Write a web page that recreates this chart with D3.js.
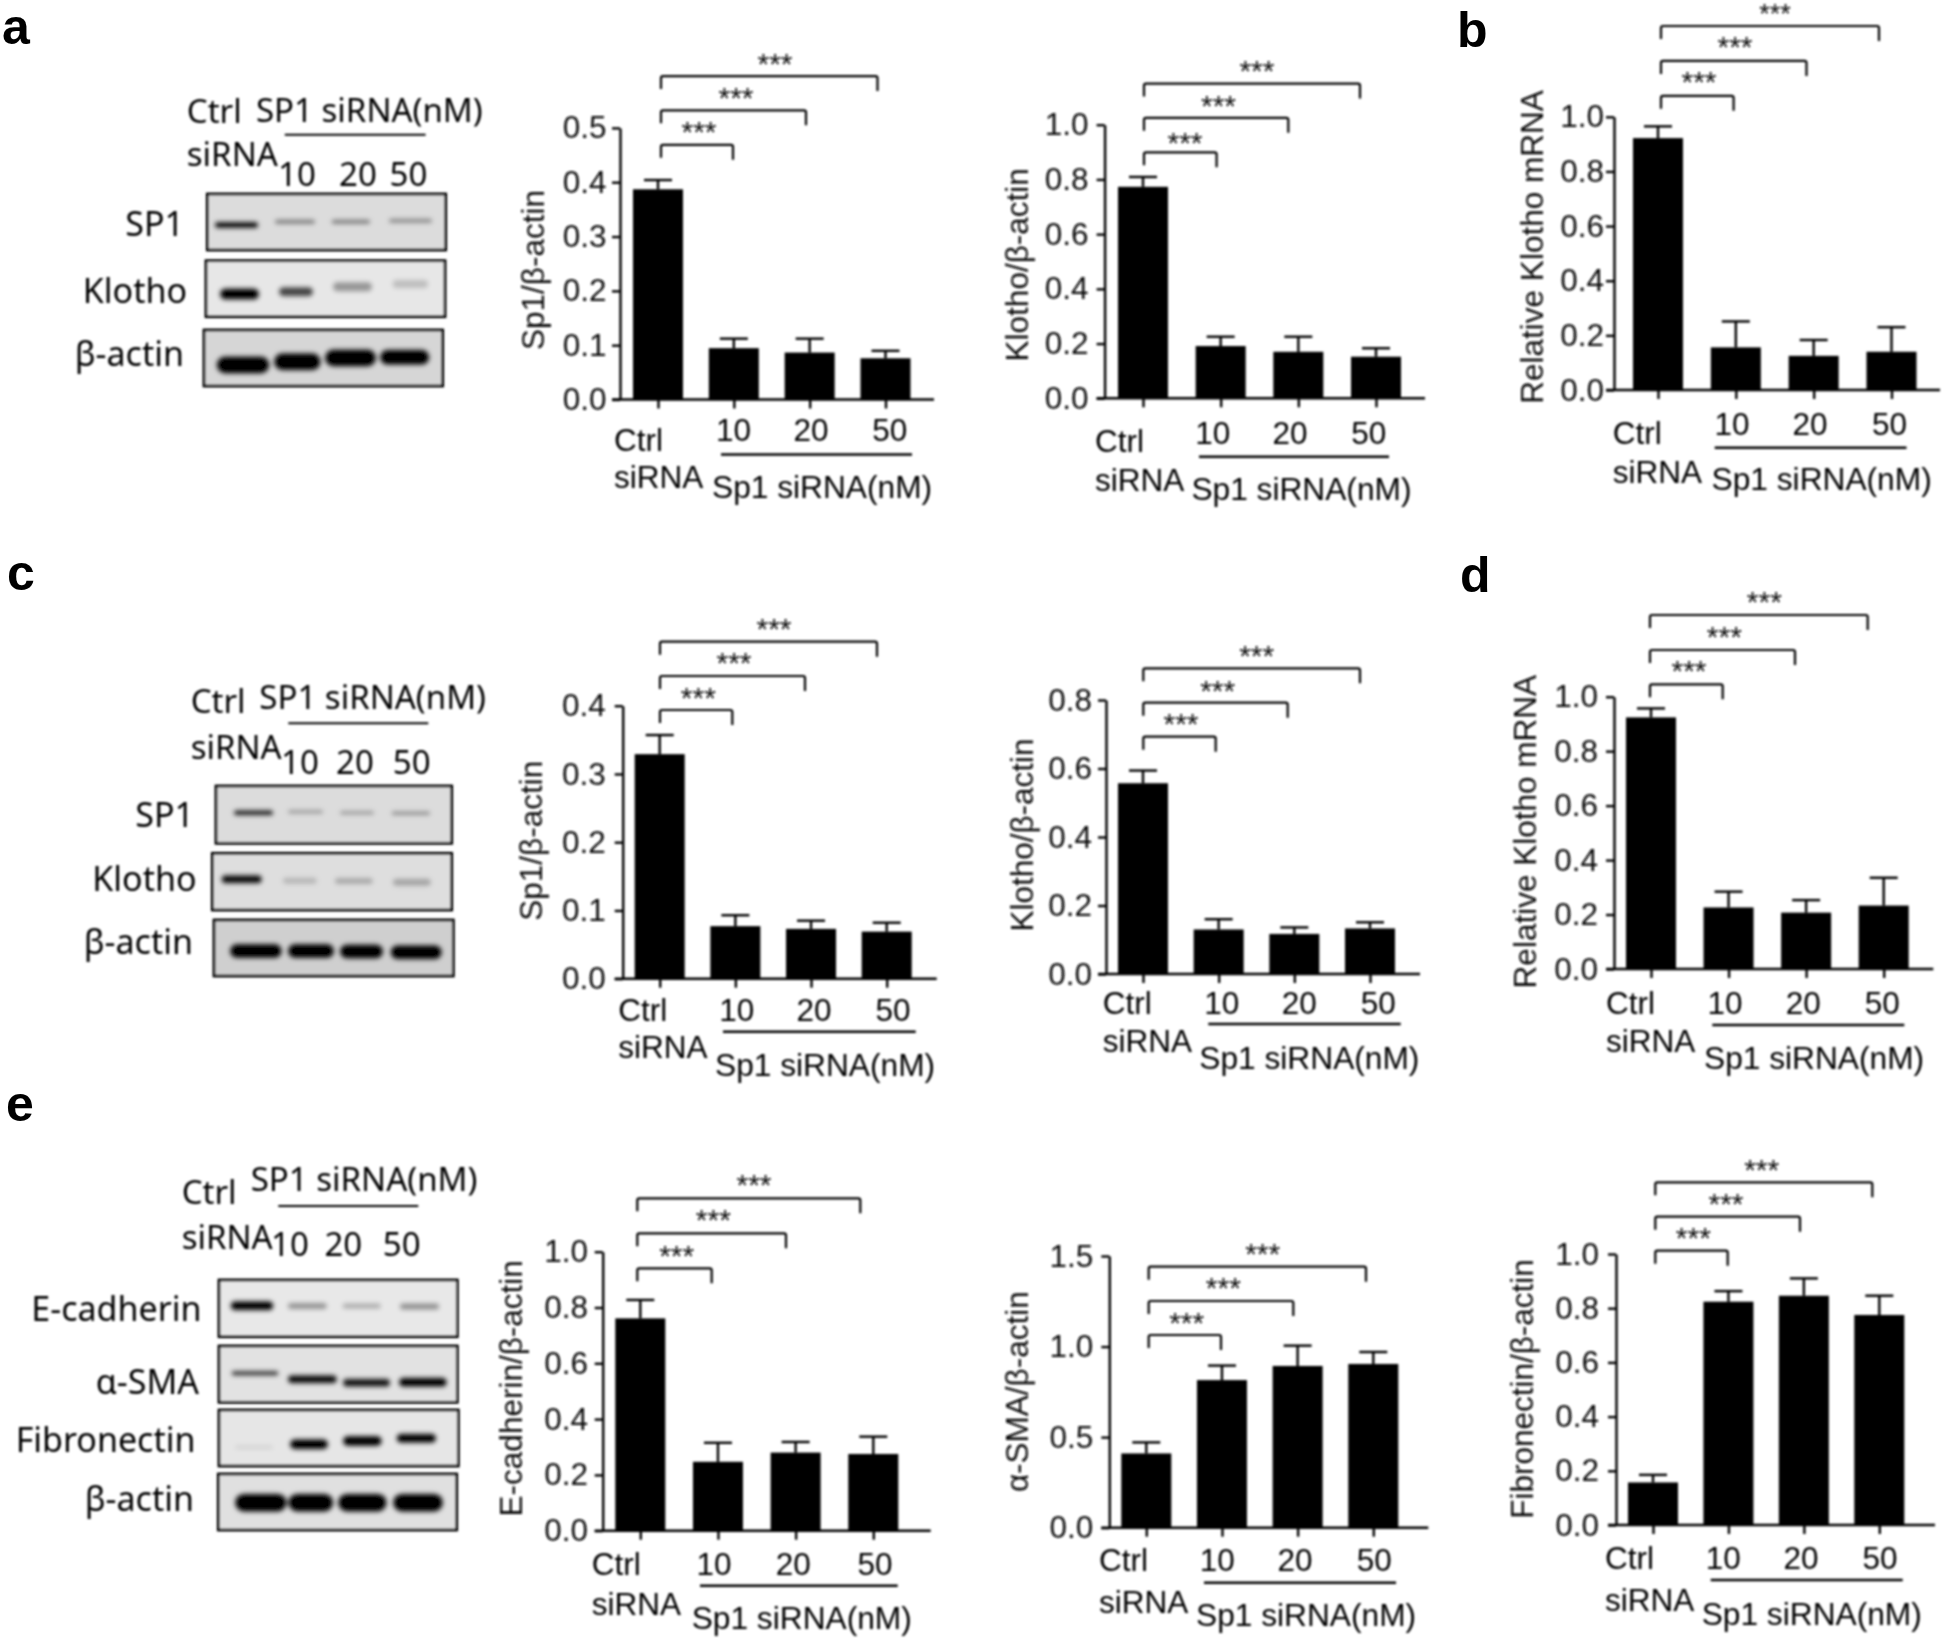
<!DOCTYPE html>
<html><head><meta charset="utf-8">
<script src="https://cdn.jsdelivr.net/npm/d3@7/dist/d3.min.js"></script>
<style>html,body{margin:0;padding:0;background:#fff}svg{display:block}</style>
</head><body>
<svg id="fig" width="1946" height="1640"></svg>
<script>
const categories = ["Ctrl siRNA", "10", "20", "50"];
const a1Values = [0.387, 0.0945, 0.0864, 0.0759], a1Tops = [0.404, 0.112, 0.112, 0.0896];
const a2Values = [0.773, 0.191, 0.170, 0.152],   a2Tops = [0.809, 0.225, 0.225, 0.183];
const bValues  = [0.922, 0.156, 0.125, 0.140],   bTops  = [0.965, 0.251, 0.183, 0.230];
const c1Values = [0.329, 0.077, 0.073, 0.069],   c1Tops = [0.357, 0.093, 0.085, 0.082];
const c2Values = [0.557, 0.130, 0.117, 0.133],   c2Tops = [0.594, 0.160, 0.136, 0.151];
const dValues  = [0.924, 0.226, 0.207, 0.233],   dTops  = [0.957, 0.284, 0.253, 0.335];
const e1Values = [0.761, 0.247, 0.280, 0.275],   e1Tops = [0.827, 0.315, 0.318, 0.337];
const e2Values = [0.410, 0.815, 0.893, 0.904],   e2Tops = [0.471, 0.895, 1.005, 0.970];
const e3Values = [0.157, 0.824, 0.846, 0.775],   e3Tops = [0.185, 0.863, 0.910, 0.846];
const ticks05 = [0, 0.1, 0.2, 0.3, 0.4, 0.5], ticks04 = [0, 0.1, 0.2, 0.3, 0.4];
const ticks10 = [0, 0.2, 0.4, 0.6, 0.8, 1.0], ticks08 = [0, 0.2, 0.4, 0.6, 0.8];
const ticks15 = [0, 0.5, 1.0, 1.5];
const stars = "***", groupLabel = "Sp1 siRNA(nM)", blotGroupLabel = "SP1 siRNA(nM)";

const sp1A=[.95,.45,.45,.38], klothoA=[1,.7,.35,.18], actinA=[1,1,1,1];
const sp1C=[.85,.3,.3,.36], klothoC=[.95,.18,.24,.26], actinC=[1,1,1,1];
const ecadE=[1,.36,.26,.38], smaE=[.75,.95,.9,1], fibE=[.08,1,1,1], actinE=[1,1,1,1];

// ---- layout (pixels), separate from the values ----
const panels = [
 {v:a1Values,t:a1Tops,yt:ticks05,max:.5,ax:620,y0:399.5,yTop:127.9,c0:658,c3:885.5,xEnd:934,pad:5.5,title:"Sp1/β-actin",tx:533,ty:270,
  bl:661,br:[733,806,877.5],by:[144.8,110.3,76.1],sx:[699,736,775],sy:[127,93,59.2],
  n:[733.6,811,889.8],ny:429.8,cx:614,cy:440,sy2:477,lx:[721,912],ly:454.5,gx:712,gy:487},
 {v:a2Values,t:a2Tops,yt:ticks10,max:1,ax:1104.6,y0:398.3,yTop:124.7,c0:1143,c3:1376,xEnd:1425,pad:8,title:"Klotho/β-actin",tx:1016.6,ty:264.8,
  bl:1144,br:[1216.6,1288.3,1360],by:[152.3,117.8,83.6],sx:[1185,1218.5,1256.9],sy:[138,100.8,66.3],
  n:[1212.8,1290,1368.8],ny:432.5,cx:1095,cy:440.6,sy2:480,lx:[1199,1389],ly:456.8,gx:1191.4,gy:489},
 {v:bValues,t:bTops,yt:ticks10,max:1,ax:1614,y0:390,yTop:116.8,c0:1658,c3:1891.5,xEnd:1940,pad:2,title:"Relative Klotho mRNA",tx:1532,ty:247,
  bl:1661,br:[1733.6,1806.5,1879],by:[95.8,60.9,26],sx:[1699,1735,1775],sy:[77,42.3,9.5],starSize:[30,30,27],
  n:[1732,1810,1889.6],ny:423.7,cx:1612.8,cy:432.5,sy2:472,lx:[1714.7,1906.5],ly:447.7,gx:1711.6,gy:479},
 {v:c1Values,t:c1Tops,yt:ticks04,max:.4,ax:622.7,y0:978.7,yTop:705.7,c0:659.7,c3:886.7,xEnd:936.7,pad:9,title:"Sp1/β-actin",tx:530.7,ty:840.8,
  bl:660,br:[732.3,805,877],by:[710,676,641.7],sx:[698.3,734,774],sy:[692.7,658,624],
  n:[736.7,814,893],ny:1010,cx:618.3,cy:1010,sy2:1047,lx:[723,915.7],ly:1031.7,gx:715,gy:1065},
 {v:c2Values,t:c2Tops,yt:ticks08,max:.8,ax:1106,y0:974,yTop:700,c0:1143,c3:1370,xEnd:1420,pad:6,title:"Klotho/β-actin",tx:1021.7,ty:835,
  bl:1143.3,br:[1215.7,1287.7,1360],by:[736.7,702.7,668.3],sx:[1181,1217.7,1256.7],sy:[719.3,685.7,651],
  n:[1221.7,1299.3,1378.3],ny:1002.7,cx:1102.7,cy:1002.7,sy2:1040.7,lx:[1208.3,1400.7],ly:1024,gx:1199.3,gy:1057.3},
 {v:dValues,t:dTops,yt:ticks10,max:1,ax:1614,y0:969,yTop:696.7,c0:1651,c3:1883.7,xEnd:1933.3,pad:8,title:"Relative Klotho mRNA",tx:1525,ty:831.7,
  bl:1650,br:[1722.7,1795,1867.7],by:[684.3,650,615],sx:[1689,1724.3,1764.3],sy:[666,632.3,596.7],
  n:[1725,1803.3,1882.3],ny:1002.3,cx:1606,cy:1002.3,sy2:1040.7,lx:[1712.3,1904.3],ly:1025,gx:1704,gy:1057.3},
 {v:e1Values,t:e1Tops,yt:ticks10,max:1,ax:602.7,y0:1530.7,yTop:1251.7,c0:640.3,c3:873.3,xEnd:930.7,pad:6.7,title:"E-cadherin/β-actin",tx:510.7,ty:1388.3,
  bl:637.3,br:[711.7,786,860.3],by:[1268.3,1233.3,1198.3],sx:[676.7,713.3,754],sy:[1250.7,1215,1180],
  n:[714,793.3,875],ny:1563.3,cx:591.7,cy:1563.3,sy2:1603.3,lx:[700,897.7],ly:1585.7,gx:691.7,gy:1618},
 {v:e2Values,t:e2Tops,yt:ticks15,max:1.5,ax:1109.3,y0:1527.7,yTop:1256,c0:1146.3,c3:1373.3,xEnd:1428.3,pad:8,title:"α-SMA/β-actin",tx:1017.3,ty:1391.7,
  bl:1148.7,br:[1221,1293.3,1366],by:[1335,1301,1266.7],sx:[1186.7,1223.3,1262.7],sy:[1317.7,1283.3,1249],
  n:[1217.3,1295,1374.3],ny:1560,cx:1099,cy:1560,sy2:1601.7,lx:[1204,1396],ly:1582.7,gx:1196,gy:1615},
 {v:e3Values,t:e3Tops,yt:ticks10,max:1,ax:1616,y0:1525,yTop:1254,c0:1653,c3:1879.3,xEnd:1935,pad:9,title:"Fibronectin/β-actin",tx:1521.7,ty:1389,
  bl:1655.3,br:[1727.7,1800,1872.3],by:[1250.7,1216.7,1182.3],sx:[1693.3,1726,1761.7],sy:[1233.3,1199.3,1165],
  n:[1723.3,1801,1880],ny:1557.3,cx:1605,cy:1557.3,sy2:1599.3,lx:[1710.7,1902.7],ly:1580,gx:1701.7,gy:1613.3}
];
const lanes = {
 a:[[215,258,225,6],[275,315,221.7,4],[331.7,370,221.7,4],[389,432,220.7,4]],
 a2:[[220,259,294,11],[279,313,291.7,9],[333,372,286.7,9],[392.7,428,284,8]],
 a3:[[216.7,269.3,365,17],[274,320.7,361.7,17],[325,376,358,17],[380,429.3,357.3,15]],
 c:[[234,273,812.7,5],[288,323,811.7,3.5],[340,374,812.7,3.5],[391.7,430,813.3,3.5]],
 c2:[[221.7,261.7,879.3,8],[283,316.7,880.7,6],[335,372.7,881,6],[393,430.7,882.3,7]],
 c3:[[230,281.7,951,14],[288,334,951,14],[340,383,951.5,14],[390.7,441.7,952.3,14]],
 e:[[230.7,273.3,1305.7,9],[288,326.7,1306,6],[342.7,380.7,1306,5],[400,439,1306.5,6]],
 e2:[[231.7,278.3,1373.3,4.5],[288,336.7,1379.3,8],[343,390,1382.7,8],[399,446.7,1382.3,9]],
 e3:[[235,273,1447.3,4],[290,328,1444.3,10],[343,381.7,1441,10],[396.7,436,1438.3,9]],
 e4:[[235,286.7,1502.7,18],[288.3,333.3,1502.7,18],[338,386.7,1502.7,18],[393,443,1502.7,18]]
};
const blots = [
 {x0:207.3,x1:445.7,y0:194,y1:250,bg:"#dcdcdc",s:sp1A,l:lanes.a,label:"SP1",lx:184,lyc:224},
 {x0:206,x1:445,y0:260.7,y1:316.7,bg:"#e7e7e7",s:klothoA,l:lanes.a2,label:"Klotho",lx:187,lyc:291},
 {x0:204,x1:442.7,y0:330,y1:386,bg:"#d6d6d6",s:actinA,l:lanes.a3,label:"β-actin",lx:184,lyc:353.5},
 {x0:216,x1:451.7,y0:786,y1:843.3,bg:"#dcdcdc",s:sp1C,l:lanes.c,label:"SP1",lx:194,lyc:815},
 {x0:212.3,x1:451.7,y0:853.3,y1:910,bg:"#dedede",s:klothoC,l:lanes.c2,label:"Klotho",lx:196.5,lyc:878.5},
 {x0:214,x1:453.3,y0:920,y1:976,bg:"#cfcfcf",s:actinC,l:lanes.c3,label:"β-actin",lx:193,lyc:942},
 {x0:219,x1:457.3,y0:1280,y1:1336.7,bg:"#e8e8e8",s:ecadE,l:lanes.e,label:"E-cadherin",lx:201.5,lyc:1308.5},
 {x0:219,x1:457.3,y0:1346,y1:1402.3,bg:"#e2e2e2",s:smaE,l:lanes.e2,label:"α-SMA",lx:199,lyc:1382},
 {x0:219,x1:458.3,y0:1410,y1:1466,bg:"#e6e6e6",s:fibE,l:lanes.e3,label:"Fibronectin",lx:195.5,lyc:1440},
 {x0:218.3,x1:456.7,y0:1474,y1:1530,bg:"#e0e0e0",s:actinE,l:lanes.e4,label:"β-actin",lx:194,lyc:1498.5}
];
const blotHeads = [
 {cx:186.8,cy:111,sy:154,gx:256,gy:110,lx:[284.8,425.6],ly:134.7,n:[297,358,408.5],ny:174},
 {cx:190.7,cy:701,sy:747,gx:259.3,gy:697.5,lx:[288.3,428.3],ly:723.3,n:[300,355,411.7],ny:762.5},
 {cx:181.7,cy:1192.5,sy:1237,gx:250.7,gy:1179,lx:[278.3,418.3],ly:1206,n:[290,343.3,401.7],ny:1244}
];
const letters = [["a",2,44],["b",1457,47],["c",7,590],["d",1460,592],["e",6,1121]];

const ARIAL = "'Liberation Sans', Arial, sans-serif";
const MYRIAD = "'Noto Sans', 'Open Sans', sans-serif";
const svg = d3.select("#fig");
const defs = svg.append("defs");
defs.append("filter").attr("id","soft").attr("x","-5%").attr("y","-5%").attr("width","110%").attr("height","110%")
  .append("feGaussianBlur").attr("stdDeviation",0.8);
defs.append("filter").attr("id","band").attr("x","-30%").attr("y","-150%").attr("width","160%").attr("height","400%")
  .append("feGaussianBlur").attr("stdDeviation",2);
const root = svg.append("g").attr("filter","url(#soft)");

function label(g,x,y,s,size,font,anchor,weight){
  return g.append("text").attr("x",x).attr("y",y+size*0.36).text(s)
    .attr("font-family",font).attr("font-size",size).attr("text-anchor",anchor||"start")
    .attr("font-weight",weight||"normal").attr("fill","#000");
}

panels.forEach(p=>{
  const g = root.append("g");
  const y = d3.scaleLinear().domain([0,p.max]).range([p.y0,p.yTop]);
  const x = d3.scalePoint().domain(categories).range([p.c0,p.c3]);
  g.selectAll("rect.bar").data(p.v).join("rect")
    .attr("x",(d,i)=>x(categories[i])-25).attr("width",50)
    .attr("y",d=>y(d)).attr("height",d=>p.y0-y(d)).attr("fill","#000");
  p.v.forEach((d,i)=>{
    const cx=x(categories[i]);
    g.append("line").attr("x1",cx).attr("x2",cx).attr("y1",y(d)).attr("y2",y(p.t[i])).attr("stroke","#000").attr("stroke-width",2.4);
    g.append("line").attr("x1",cx-14).attr("x2",cx+14).attr("y1",y(p.t[i])).attr("y2",y(p.t[i])).attr("stroke","#000").attr("stroke-width",2.4);
  });
  const ya = g.append("g").attr("transform",`translate(${p.ax},0)`)
    .call(d3.axisLeft(y).tickValues(p.yt).tickFormat(d3.format(".1f")).tickSize(8).tickPadding(p.pad).tickSizeOuter(0));
  ya.selectAll("text").attr("font-family",ARIAL).attr("font-size",31.5).attr("fill","#111");
  ya.selectAll("line,path").attr("stroke","#000").attr("stroke-width",2.4);
  const xa = g.append("g").attr("transform",`translate(0,${p.y0})`)
    .call(d3.axisBottom(x).tickSize(9).tickFormat("").tickSizeOuter(0));
  xa.select("path").remove();
  xa.selectAll("line").attr("stroke","#000").attr("stroke-width",2.4);
  g.append("line").attr("x1",p.ax-8).attr("x2",p.xEnd).attr("y1",p.y0).attr("y2",p.y0).attr("stroke","#000").attr("stroke-width",2.4);
  g.append("text").attr("transform",`translate(${p.tx+11},${p.ty}) rotate(-90)`).attr("text-anchor","middle")
    .text(p.title).attr("font-family",ARIAL).attr("font-size",31.5).attr("fill","#111");
  const [ctrl,sirna] = categories[0].split(" ");
  label(g,p.cx,p.cy,ctrl,31.5,ARIAL); label(g,p.cx,p.sy2,sirna,31.5,ARIAL);
  categories.slice(1).forEach((c,i)=>label(g,p.n[i],p.ny,c,31.5,ARIAL,"middle"));
  g.append("line").attr("x1",p.lx[0]).attr("x2",p.lx[1]).attr("y1",p.ly).attr("y2",p.ly).attr("stroke","#000").attr("stroke-width",2.6);
  label(g,p.gx,p.gy,groupLabel,31.7,ARIAL);
  p.br.forEach((r,i)=>{
    const by=p.by[i], fs=p.starSize?p.starSize[i]:30;
    g.append("path").attr("fill","none").attr("stroke","#000").attr("stroke-width",2.2)
      .attr("d",`M${p.bl},${by+13}V${by+2}Q${p.bl},${by} ${p.bl+2},${by}H${r-2}Q${r},${by} ${r},${by+2}V${by+15}`);
    g.append("text").attr("x",p.sx[i]).attr("y",p.sy[i]+fs/2).attr("text-anchor","middle").text(stars)
      .attr("font-family",ARIAL).attr("font-size",fs).attr("fill","#111");
  });
});

blots.forEach(b=>{
  const g = root.append("g");
  g.append("rect").attr("x",b.x0).attr("y",b.y0).attr("width",b.x1-b.x0).attr("height",b.y1-b.y0)
    .attr("fill",b.bg).attr("stroke","#000").attr("stroke-width",2.8);
  const bands = g.append("g").attr("filter","url(#band)");
  b.s.forEach((s,i)=>{
    const [x0,x1,cy,th]=b.l[i];
    bands.append("rect").attr("x",x0).attr("width",x1-x0).attr("y",cy-th/2).attr("height",th)
      .attr("rx",th/2).attr("fill","#000").attr("opacity",s);
  });
  label(g,b.lx,b.lyc,b.label,34,MYRIAD,"end");
});
blotHeads.forEach(h=>{
  const g=root.append("g");
  label(g,h.cx,h.cy,"Ctrl",33,MYRIAD); label(g,h.cx,h.sy,"siRNA",33,MYRIAD);
  label(g,h.gx,h.gy,blotGroupLabel,33,MYRIAD);
  g.append("line").attr("x1",h.lx[0]).attr("x2",h.lx[1]).attr("y1",h.ly).attr("y2",h.ly).attr("stroke","#000").attr("stroke-width",2);
  categories.slice(1).forEach((c,i)=>label(g,h.n[i],h.ny,c,33,MYRIAD,"middle"));
});
letters.forEach(([s,x,y])=>{
  svg.append("text").attr("x",x).attr("y",y).text(s).attr("font-family",ARIAL).attr("font-weight","bold")
    .attr("font-size",50).attr("fill","#000");
});
</script>
</body></html>
